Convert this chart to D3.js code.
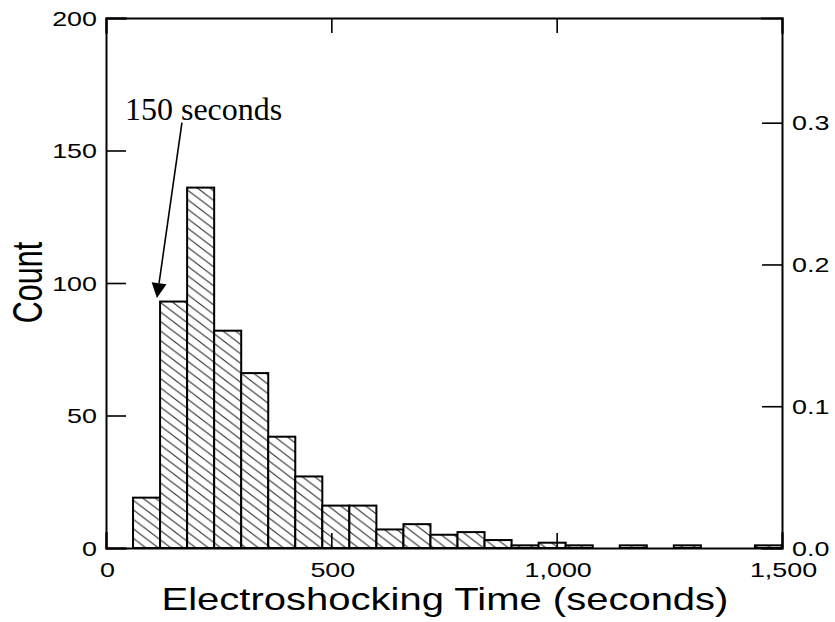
<!DOCTYPE html>
<html><head><meta charset="utf-8">
<script src="https://cdn.jsdelivr.net/npm/d3@7"></script>
<style>html,body{margin:0;padding:0;background:#fff;overflow:hidden}</style>
</head><body>
<svg id="chart" width="835" height="622"></svg>
<script>
// ---- data ----
const binStarts = [60,120,180,240,300,360,420,480,540,600,660,720,780,840,900,960,1020,1080,1140,1200,1260,1320,1380,1440];
const counts    = [19,93,136,82,66,42,27,16,16,7,9,5,6,3,1,2,1,0,1,0,1,0,0,1];
const binWidth = 60;
const totalN = 535;
const countTicks = [0,50,100,150,200];
const propTicks = [0.0,0.1,0.2,0.3];
const timeTicks = [0,500,1000,1500];
const xTitle = "Electroshocking Time (seconds)";
const yTitle = "Count";
const annoText = "150 seconds";
const annoTextPos = [42, 161.5];
const annoFrom = [168.5, 160.5];
const annoTip = [113, 94.3];

const svg = d3.select("#chart");
const L=106, R=782, T=18, B=548;
const x = d3.scaleLinear().domain([0,1500]).range([L,R]);
const y = d3.scaleLinear().domain([0,200]).range([B,T]);
const yP = d3.scaleLinear().domain([0,200/totalN]).range([B,T]);
const sans = "'Liberation Sans', Arial, Helvetica, sans-serif";
const SX = 1.28;

// hatch pattern
const defs = svg.append("defs");
const W=12.5, H=9.5;
const pat = defs.append("pattern").attr("id","hatch").attr("patternUnits","userSpaceOnUse")
  .attr("width",W).attr("height",H);
pat.append("rect").attr("width",W).attr("height",H).attr("fill","#fff");
pat.append("path")
  .attr("d",`M-2,${-2*H/W} L${W+2},${H+2*H/W} M${W-2},${-2*H/W} L${W+2},${2*H/W} M-2,${H-2*H/W} L2,${H+2*H/W}`)
  .attr("stroke","#333").attr("stroke-width",1.1).attr("fill","none");

const data = binStarts.map((s,i)=>({x0:s,x1:s+binWidth,c:counts[i]})).filter(d=>d.c>0);

svg.append("g").selectAll("rect").data(data).join("rect")
  .attr("x",d=>x(d.x0)).attr("width",d=>x(d.x1)-x(d.x0))
  .attr("y",d=>y(d.c)).attr("height",d=>y(0)-y(d.c))
  .attr("fill","url(#hatch)").attr("stroke","#000").attr("stroke-width",2);

// axes
const axLeft = d3.axisRight(y).tickValues(countTicks).tickSize(20).tickFormat("");
const axRight = d3.axisLeft(yP).tickValues(propTicks).tickSize(20).tickFormat("");
const axTop = d3.axisBottom(x).tickValues(timeTicks).tickSize(15).tickFormat("");
const axBot = d3.axisTop(x).tickValues(timeTicks).tickSize(15).tickFormat("");
function styleAx(g){g.selectAll("path").attr("stroke","#000").attr("stroke-width",2);
  g.selectAll("line").attr("stroke","#000").attr("stroke-width",1.6);}
svg.append("g").attr("transform",`translate(${L},0)`).call(axLeft).call(styleAx);
svg.append("g").attr("transform",`translate(${R},0)`).call(axRight).call(styleAx);
svg.append("g").attr("transform",`translate(0,${T})`).call(axTop).call(styleAx);
svg.append("g").attr("transform",`translate(0,${B})`).call(axBot).call(styleAx);
svg.selectAll(".domain").attr("stroke-linecap","square");

// tick labels
const fmtC = d3.format(",");
svg.append("g").selectAll("text").data(countTicks).join("text")
  .attr("transform",d=>`translate(97,${y(d)+7.7}) scale(${SX},1)`)
  .attr("text-anchor","end").attr("font-family",sans).attr("font-size",21).text(d=>fmtC(d));
svg.append("g").selectAll("text").data(propTicks).join("text")
  .attr("transform",d=>`translate(792,${yP(d)+7.7}) scale(${SX},1)`)
  .attr("text-anchor","start").attr("font-family",sans).attr("font-size",21).text(d=>d3.format(".1f")(d));
svg.append("g").selectAll("text").data(timeTicks).join("text")
  .attr("transform",d=>`translate(${x(d)+1.5},576.5) scale(${SX},1)`)
  .attr("text-anchor","middle").attr("font-family",sans).attr("font-size",21).text(d=>fmtC(d));

// titles
svg.append("text").attr("transform",`translate(445,610) scale(1.27,1)`)
  .attr("text-anchor","middle").attr("font-family",sans).attr("font-size",31.5).text(xTitle);
svg.append("text").attr("transform",`translate(41.5,282.5) rotate(-90) scale(0.71,1)`)
  .attr("text-anchor","middle").attr("font-family",sans).attr("font-size",43).text(yTitle);

// annotation
svg.append("text").attr("x",x(annoTextPos[0])).attr("y",y(annoTextPos[1]))
  .attr("font-family","'Liberation Serif','Times New Roman',serif").attr("font-size",32).text(annoText);
const fx=x(annoFrom[0]), fy=y(annoFrom[1]), tx=x(annoTip[0]), ty=y(annoTip[1]);
const len=Math.hypot(tx-fx,ty-fy), ux=(tx-fx)/len, uy=(ty-fy)/len;
const hl=15, hw=7.5;
const bx=tx-ux*hl, by=ty-uy*hl;
svg.append("line").attr("x1",fx).attr("y1",fy).attr("x2",bx).attr("y2",by)
  .attr("stroke","#000").attr("stroke-width",1.6);
svg.append("path").attr("d",`M${tx},${ty} L${bx-uy*hw},${by+ux*hw} L${bx+uy*hw},${by-ux*hw} Z`)
  .attr("fill","#000");
</script>
</body></html>
